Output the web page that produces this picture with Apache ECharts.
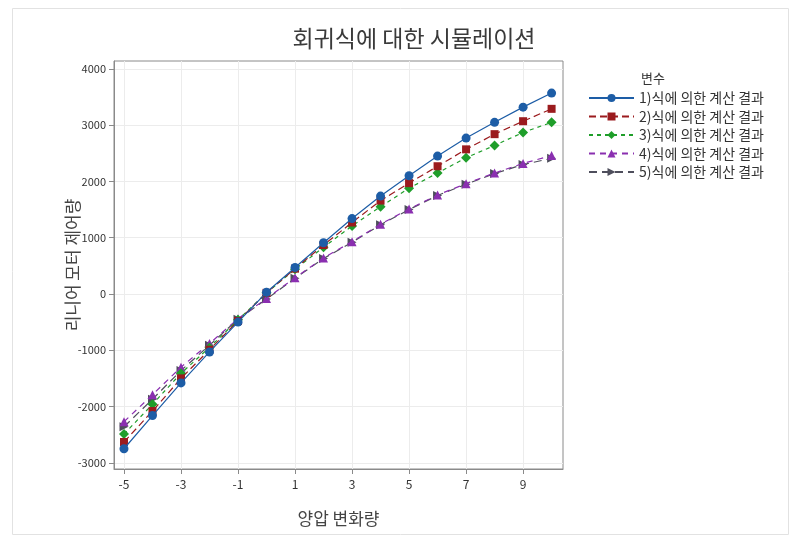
<!DOCTYPE html>
<html><head><meta charset="utf-8">
<script src="https://cdn.jsdelivr.net/npm/echarts@6/dist/echarts.min.js"></script>
<style>html,body{margin:0;padding:0;background:#fff}#c{width:800px;height:542px}</style>
</head><body><div id="c"></div>
<script>
const xValues = [-5,-4,-3,-2,-1,0,1,2,3,4,5,6,7,8,9,10];
const seriesNames = ['1)식에 의한 계산 결과','2)식에 의한 계산 결과','3)식에 의한 계산 결과','4)식에 의한 계산 결과','5)식에 의한 계산 결과'];
const s1 = [-2750,-2160,-1580,-1030,-500,30,470,910,1340,1740,2100,2450,2770,3050,3320,3570];
const s2 = [-2630,-2080,-1500,-990,-480,20,450,870,1270,1660,1970,2270,2570,2840,3070,3290];
const s3 = [-2490,-1960,-1410,-950,-460,20,440,830,1210,1550,1880,2150,2420,2640,2870,3050];
const s4 = [-2270,-1790,-1300,-880,-440,-80,290,640,930,1240,1510,1760,1960,2150,2320,2460];
const s5 = [-2360,-1870,-1360,-910,-450,-90,280,630,920,1230,1500,1750,1950,2140,2300,2410];
const xTicks = [-5,-3,-1,1,3,5,7,9];
const yTicks = [-3000,-2000,-1000,0,1000,2000,3000,4000];

const FONT = '"Noto Sans CJK KR", "Noto Sans", sans-serif';
const colors = ['#1d5da6','#9b1b1e','#1f9e2a','#8a2fb0','#4e4e5c'];
const symbols = ['circle','rect','diamond','triangle','path://M0,0 L10,5 L0,10 Z'];
const dashes = ['solid',[7,4],[4,4],[6,5],[8,5]];
const all = [s1,s2,s3,s4,s5];

const chart = echarts.init(document.getElementById('c'), null, {renderer:'canvas'});
chart.setOption({
  animation:false,
  backgroundColor:'#fff',
  title:[
    {text:'회귀식에 대한 시뮬레이션', left:409, top:22, textAlign:'center',
     textStyle:{fontFamily:FONT, fontSize:23, fontWeight:'normal', color:'#3a3a3a'}},
    {text:'변수', left:636, top:67,
     textStyle:{fontFamily:FONT, fontSize:13, fontWeight:'normal', color:'#333'}}
  ],
  graphic:[{type:'rect', shape:{x:12.5,y:8.5,width:776,height:526}, style:{fill:null, stroke:'#e2e2e2', lineWidth:1}, silent:true}],
  legend:{
    orient:'vertical', left:583, top:86, itemWidth:45, itemHeight:10, itemGap:4.5,
    textStyle:{fontFamily:FONT, fontSize:14, color:'#333', lineHeight:14},
    data:seriesNames
  },
  grid:{left:114, right:237, top:61, bottom:73, show:true, borderColor:'#8a8a8a', borderWidth:1},
  xAxis:{
    type:'value', min:-5.35, max:10.4,
    name:'양압 변화량', nameLocation:'middle', nameGap:41, nameMoveOverlap:false,
    nameTextStyle:{fontFamily:FONT, fontSize:17, color:'#444'},
    axisLine:{show:true, onZero:false, lineStyle:{color:'#8a8a8a'}},
    axisTick:{show:true, length:5, customValues:xTicks, lineStyle:{color:'#8a8a8a'}},
    axisLabel:{customValues:xTicks, fontFamily:FONT, fontSize:12, color:'#333', margin:9, formatter:v=>String(v)},
    splitLine:{show:true, lineStyle:{color:'#ececec'}}
  },
  yAxis:{
    type:'value', min:-3110, max:4140,
    name:'리니어 모터 제어량', nameLocation:'middle', nameGap:33, nameMoveOverlap:false,
    nameTextStyle:{fontFamily:FONT, fontSize:17, color:'#444'},
    axisLine:{show:true, onZero:false, lineStyle:{color:'#8a8a8a'}},
    axisTick:{show:true, length:5, customValues:yTicks, lineStyle:{color:'#8a8a8a'}},
    axisLabel:{customValues:yTicks, fontFamily:FONT, fontSize:11, color:'#333', margin:8, formatter:v=>String(v)},
    splitLine:{show:true, lineStyle:{color:'#ececec'}}
  },
  series: all.map((d,i)=>({
    name:seriesNames[i], type:'line',
    data:xValues.map((x,j)=>[x,d[j]]),
    symbol:symbols[i], symbolSize: i===1?8:(i===2?10:9),
    color:colors[i],
    lineStyle:{width:1.2, type:dashes[i], color:colors[i]},
    itemStyle:{color:colors[i]},
    z: 5-i
  }))
});
</script></body></html>
